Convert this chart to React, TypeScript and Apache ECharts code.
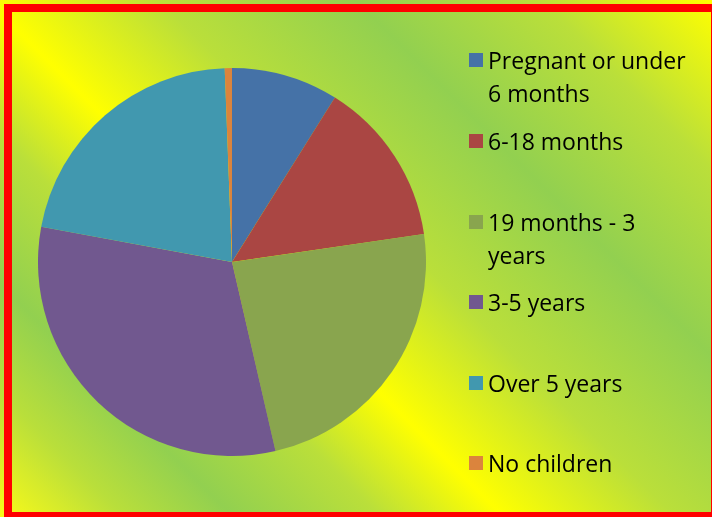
import React, { useEffect, useRef } from "react";
import * as echarts from "echarts";

const categories = [
  "Pregnant or under 6 months",
  "6-18 months",
  "19 months - 3 years",
  "3-5 years",
  "Over 5 years",
  "No children",
];
const legendLines = [
  ["Pregnant or under", "6 months"],
  ["6-18 months"],
  ["19 months - 3", "years"],
  ["3-5 years"],
  ["Over 5 years"],
  ["No children"],
];
const values = [8.9, 13.8, 23.7, 31.5, 21.5, 0.6];
const colors = ["#4572A7", "#AA4643", "#89A54E", "#71588F", "#4198AF", "#DB843D"];
const legendCenters = [60, 141, 222, 302, 383, 463];

export default function App() {
  const ref = useRef<HTMLDivElement>(null);
  useEffect(() => {
    if (!ref.current) return;
    const chart = echarts.init(ref.current, undefined, { renderer: "svg" });
    const LH = 33;
    const legends = categories.map((name, i) => {
      const lines = legendLines[i];
      const text = lines.length > 1 ? "\n" + lines.join("\n") : lines[0];
      const nLines = lines.length > 1 ? 3 : 1;
      return {
        data: [name],
        orient: "vertical",
        left: 469,
        top: legendCenters[i] - (nLines * LH) / 2,
        padding: 0,
        itemWidth: 14,
        itemHeight: 14,
        icon: "rect",
        selectedMode: false,
        formatter: () => text,
        textStyle: {
          fontFamily: "Open Sans",
          fontSize: 23,
          color: "#000",
          lineHeight: LH,
        },
      };
    });
    const Y = "#FFFF00";
    const G = "#92D050";
    const M = "#BADF3A";
    chart.setOption({
      animation: false,
      graphic: [
        {
          type: "rect",
          z: -10,
          silent: true,
          shape: { x: 0, y: 0, width: 712, height: 517 },
          style: {
            fill: {
              type: "linear",
              global: true,
              x: 0,
              y: 517,
              x2: 614.5,
              y2: -97.5,
              colorStops: [
                { offset: 0, color: "#FAFA18" },
                { offset: 0.1, color: M },
                { offset: 0.19, color: G },
                { offset: 0.31, color: M },
                { offset: 0.41, color: Y },
                { offset: 0.55, color: M },
                { offset: 0.71, color: G },
                { offset: 0.86, color: M },
                { offset: 1, color: Y },
              ],
            },
          },
        },
        {
          type: "rect",
          z: 100,
          silent: true,
          shape: { x: 8, y: 8, width: 707, height: 508 },
          style: { fill: "none", stroke: "#FF0000", lineWidth: 8 },
        },
      ],
      legend: legends,
      series: [
        {
          type: "pie",
          center: [232, 262],
          radius: 194,
          startAngle: 90,
          clockwise: true,
          label: { show: false },
          labelLine: { show: false },
          emphasis: { disabled: true },
          itemStyle: { borderWidth: 0 },
          data: categories.map((name, i) => ({
            name,
            value: values[i],
            itemStyle: { color: colors[i] },
          })),
        },
      ],
    });
    return () => chart.dispose();
  }, []);
  return (
    <div
      ref={ref}
      style={{ position: "fixed", left: 0, top: 0, width: 712, height: 517 }}
    />
  );
}
